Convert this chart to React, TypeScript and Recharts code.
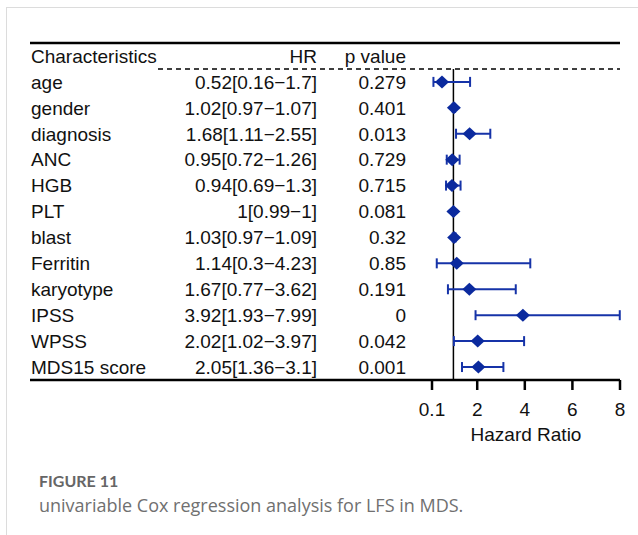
import React from 'react';
import {
  ScatterChart,
  Scatter,
  XAxis,
  YAxis,
  ErrorBar,
  ReferenceLine,
} from 'recharts';

const categories = [
  'age',
  'gender',
  'diagnosis',
  'ANC',
  'HGB',
  'PLT',
  'blast',
  'Ferritin',
  'karyotype',
  'IPSS',
  'WPSS',
  'MDS15 score',
];
const hazardRatios = [0.52, 1.02, 1.68, 0.95, 0.94, 1, 1.03, 1.14, 1.67, 3.92, 2.02, 2.05];
const lowerCI = [0.16, 0.97, 1.11, 0.72, 0.69, 0.99, 0.97, 0.3, 0.77, 1.93, 1.02, 1.36];
const upperCI = [1.7, 1.07, 2.55, 1.26, 1.3, 1, 1.09, 4.23, 3.62, 7.99, 3.97, 3.1];
const pValues = ['0.279', '0.401', '0.013', '0.729', '0.715', '0.081', '0.32', '0.85', '0.191', '0', '0.042', '0.001'];
const hrTicks = [0.1, 2, 4, 6, 8];

const FONT = '"Liberation Sans", Arial, Helvetica, sans-serif';
const BLUE = '#0b2a9e';

// layout of the table + forest panel (pixels)
const CHART_W = 638;
const CHART_H = 460;
const PLOT_LEFT = 30;
const PLOT_RIGHT = 620;
const PANEL_LEFT = 432;
const PLOT_TOP = 43;
const PLOT_BOTTOM = 380;
const Y_AXIS_W = 1; // an axis of width 0 is not drawn at all
const ROW_COUNT = categories.length + 1; // header + rows
const ROW_H = (PLOT_BOTTOM - PLOT_TOP) / ROW_COUNT;

const HR_MIN = hrTicks[0];
const HR_MAX = hrTicks[hrTicks.length - 1];
// the hazard-ratio scale only occupies the right panel; the left part holds the table
const X_DOMAIN_MIN =
  HR_MIN - ((HR_MAX - HR_MIN) * (PANEL_LEFT - PLOT_LEFT)) / (PLOT_RIGHT - PANEL_LEFT);

const COL_NAME_X = 31;
const COL_HR_X = 317;
const COL_P_X = 406;
const HEADER_DASH_X = 158;

type Row = {
  name: string;
  hr: number;
  lo: number;
  hi: number;
  err: [number, number];
  label: string;
  p: string;
  pos: number;
};

const rows: Row[] = categories.map((name, i) => ({
  name,
  hr: hazardRatios[i],
  lo: lowerCI[i],
  hi: upperCI[i],
  err: [hazardRatios[i] - lowerCI[i], upperCI[i] - hazardRatios[i]],
  label: `${hazardRatios[i]}[${lowerCI[i]}\u2212${upperCI[i]}]`,
  p: pValues[i],
  pos: i + 1.5,
}));

const rowTicks = [0.5, ...rows.map((r) => r.pos)];

const textStyle = { fontFamily: FONT, fontSize: 19, fill: '#111' };

function RowTick(props: any) {
  const { y, payload } = props;
  const v = payload?.value;
  if (v === 0.5) {
    return (
      <g>
        <text x={COL_NAME_X} y={y} dy="0.36em" textAnchor="start" {...textStyle}>
          Characteristics
        </text>
        <text x={COL_HR_X} y={y} dy="0.36em" textAnchor="end" {...textStyle}>
          HR
        </text>
        <text x={COL_P_X} y={y} dy="0.36em" textAnchor="end" {...textStyle}>
          p value
        </text>
        <line
          x1={HEADER_DASH_X}
          x2={PLOT_RIGHT}
          y1={y + ROW_H / 2}
          y2={y + ROW_H / 2}
          stroke="#000"
          strokeWidth={1.5}
          strokeDasharray="5 4"
        />
      </g>
    );
  }
  const row = rows.find((r) => r.pos === v);
  if (!row) return <g />;
  return (
    <g>
      <text x={COL_NAME_X} y={y} dy="0.36em" textAnchor="start" {...textStyle}>
        {row.name}
      </text>
      <text x={COL_HR_X} y={y} dy="0.36em" textAnchor="end" {...textStyle}>
        {row.label}
      </text>
      <text x={COL_P_X} y={y} dy="0.36em" textAnchor="end" {...textStyle}>
        {row.p}
      </text>
    </g>
  );
}

function Diamond(props: any) {
  const { cx, cy } = props;
  const w = 7;
  const h = 6.5;
  return (
    <polygon
      points={`${cx - w},${cy} ${cx},${cy - h} ${cx + w},${cy} ${cx},${cy + h}`}
      fill={BLUE}
    />
  );
}

export default function App() {
  return (
    <div
      style={{
        position: 'absolute',
        left: 0,
        top: 0,
        width: 638,
        height: 535,
        background: '#fff',
        overflow: 'hidden',
      }}
    >
      <div
        style={{
          position: 'absolute',
          left: 6,
          top: 7,
          right: 0,
          bottom: 0,
          borderLeft: '1px solid #dcdcdc',
          borderTop: '1px solid #dcdcdc',
        }}
      />
      <div style={{ position: 'absolute', left: 0, top: 0 }}>
        <ScatterChart
          width={CHART_W}
          height={CHART_H}
          margin={{
            top: PLOT_TOP,
            right: CHART_W - PLOT_RIGHT,
            bottom: CHART_H - PLOT_BOTTOM - 50,
            left: PLOT_LEFT - Y_AXIS_W,
          }}
        >
          <XAxis
            type="number"
            dataKey="hr"
            domain={[X_DOMAIN_MIN, HR_MAX]}
            allowDataOverflow
            ticks={hrTicks}
            interval={0}
            height={50}
            tickSize={10}
            tickMargin={13}
            axisLine={{ stroke: '#000', strokeWidth: 2.5 }}
            tickLine={{ stroke: '#000', strokeWidth: 2.5 }}
            tick={textStyle}
            tickFormatter={(v: number) => String(v)}
          />
          <YAxis
            type="number"
            dataKey="pos"
            domain={[0, ROW_COUNT]}
            reversed
            ticks={rowTicks}
            interval={0}
            width={Y_AXIS_W}
            axisLine={false}
            tickLine={false}
            tick={(p: any) => <RowTick {...p} />}
          />
          <ReferenceLine y={0} stroke="#000" strokeWidth={2.5} />
          <ReferenceLine
            segment={[
              { x: 1, y: 1 },
              { x: 1, y: ROW_COUNT },
            ]}
            stroke="#000"
            strokeWidth={1.5}
          />
          <ReferenceLine
            segment={[
              { x: HR_MIN, y: ROW_COUNT },
              { x: HR_MAX, y: ROW_COUNT },
            ]}
            stroke="none"
            label={{
              value: 'Hazard Ratio',
              position: 'bottom',
              offset: 48,
              ...textStyle,
            }}
          />
          <Scatter data={rows} shape={Diamond} fill={BLUE} isAnimationActive={false}>
            <ErrorBar
              dataKey="err"
              direction="x"
              width={5}
              stroke="#1633a8"
              strokeWidth={2}
              isAnimationActive={false}
            />
          </Scatter>
        </ScatterChart>
      </div>
      <div
        style={{
          position: 'absolute',
          left: 39,
          top: 471,
          fontFamily: 'Lato, "Open Sans", sans-serif',
          fontWeight: 700,
          fontSize: 16,
          color: '#666',
        }}
      >
        FIGURE 11
      </div>
      <div
        style={{
          position: 'absolute',
          left: 39,
          top: 493,
          fontFamily: '"Open Sans", Lato, sans-serif',
          fontSize: 18,
          color: '#707070',
        }}
      >
        univariable Cox regression analysis for LFS in MDS.
      </div>
    </div>
  );
}
